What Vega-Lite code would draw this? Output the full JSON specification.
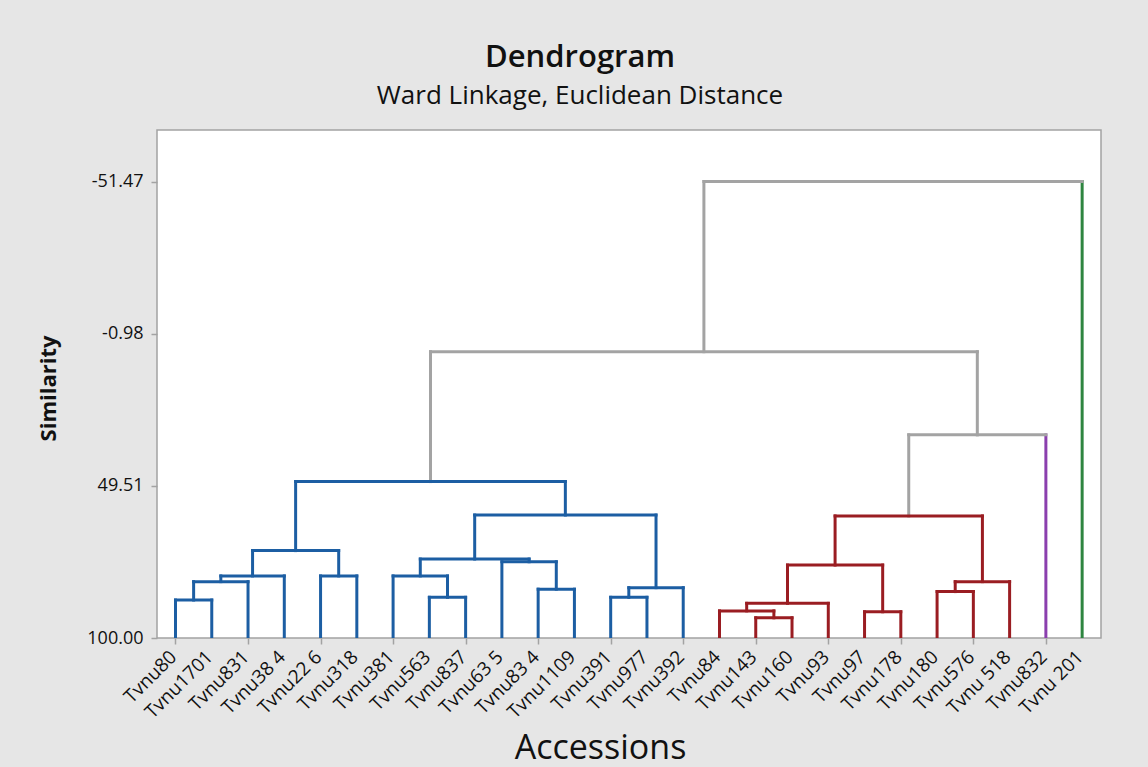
{
  "$schema": "https://vega.github.io/schema/vega-lite/v6.json",
  "autosize": {"type": "none"},
  "width": 944,
  "height": 508,
  "padding": {"left": 157, "top": 130, "right": 47, "bottom": 129},
  "background": "#e6e6e6",
  "title": {
    "text": "Dendrogram",
    "subtitle": "Ward Linkage, Euclidean Distance",
    "anchor": "middle",
    "dx": -49,
    "font": "Open Sans",
    "fontSize": 31,
    "fontWeight": 600,
    "color": "#111111",
    "subtitleFont": "Open Sans",
    "subtitleFontSize": 26,
    "subtitleColor": "#111111",
    "subtitlePadding": 9,
    "offset": 20
  },
  "config": {
    "view": {"fill": "#ffffff", "stroke": "#a3a3a3", "strokeWidth": 1.5}
  },
  "datasets": {
    "merges": [
      {"id": "A", "xl": 0, "yl": 100, "xr": 1, "yr": 100, "h": 87.4, "gl": "c1", "gr": "c1", "gh": "c1"},
      {"id": "B", "xl": 0.5, "yl": 87.4, "xr": 2, "yr": 100, "h": 81.3, "gl": "c1", "gr": "c1", "gh": "c1"},
      {"id": "C", "xl": 1.25, "yl": 81.3, "xr": 3, "yr": 100, "h": 79.4, "gl": "c1", "gr": "c1", "gh": "c1"},
      {"id": "D", "xl": 4, "yl": 100, "xr": 5, "yr": 100, "h": 79.4, "gl": "c1", "gr": "c1", "gh": "c1"},
      {"id": "E", "xl": 2.125, "yl": 79.4, "xr": 4.5, "yr": 79.4, "h": 71.0, "gl": "c1", "gr": "c1", "gh": "c1"},
      {"id": "F", "xl": 7, "yl": 100, "xr": 8, "yr": 100, "h": 86.5, "gl": "c1", "gr": "c1", "gh": "c1"},
      {"id": "G", "xl": 6, "yl": 100, "xr": 7.5, "yr": 86.5, "h": 79.4, "gl": "c1", "gr": "c1", "gh": "c1"},
      {"id": "H", "xl": 10, "yl": 100, "xr": 11, "yr": 100, "h": 83.8, "gl": "c1", "gr": "c1", "gh": "c1"},
      {"id": "I", "xl": 9, "yl": 100, "xr": 10.5, "yr": 83.8, "h": 74.7, "gl": "c1", "gr": "c1", "gh": "c1"},
      {"id": "J", "xl": 6.75, "yl": 79.4, "xr": 9.75, "yr": 74.7, "h": 73.8, "gl": "c1", "gr": "c1", "gh": "c1"},
      {"id": "K", "xl": 12, "yl": 100, "xr": 13, "yr": 100, "h": 86.5, "gl": "c1", "gr": "c1", "gh": "c1"},
      {"id": "L", "xl": 12.5, "yl": 86.5, "xr": 14, "yr": 100, "h": 83.3, "gl": "c1", "gr": "c1", "gh": "c1"},
      {"id": "M", "xl": 8.25, "yl": 73.8, "xr": 13.25, "yr": 83.3, "h": 59.2, "gl": "c1", "gr": "c1", "gh": "c1"},
      {"id": "N", "xl": 3.3125, "yl": 71.0, "xr": 10.75, "yr": 59.2, "h": 48.1, "gl": "c1", "gr": "c1", "gh": "c1"},
      {"id": "O", "xl": 16, "yl": 100, "xr": 17, "yr": 100, "h": 93.3, "gl": "c2", "gr": "c2", "gh": "c2"},
      {"id": "P", "xl": 15, "yl": 100, "xr": 16.5, "yr": 93.3, "h": 91.0, "gl": "c2", "gr": "c2", "gh": "c2"},
      {"id": "Q", "xl": 15.75, "yl": 91.0, "xr": 18, "yr": 100, "h": 88.5, "gl": "c2", "gr": "c2", "gh": "c2"},
      {"id": "R", "xl": 19, "yl": 100, "xr": 20, "yr": 100, "h": 91.3, "gl": "c2", "gr": "c2", "gh": "c2"},
      {"id": "S", "xl": 16.875, "yl": 88.5, "xr": 19.5, "yr": 91.3, "h": 75.8, "gl": "c2", "gr": "c2", "gh": "c2"},
      {"id": "T", "xl": 21, "yl": 100, "xr": 22, "yr": 100, "h": 84.6, "gl": "c2", "gr": "c2", "gh": "c2"},
      {"id": "U", "xl": 21.5, "yl": 84.6, "xr": 23, "yr": 100, "h": 81.3, "gl": "c2", "gr": "c2", "gh": "c2"},
      {"id": "V", "xl": 18.1875, "yl": 75.8, "xr": 22.25, "yr": 81.3, "h": 59.5, "gl": "c2", "gr": "c2", "gh": "c2"},
      {"id": "W", "xl": 20.21875, "yl": 59.5, "xr": 24, "yr": 100, "h": 32.6, "gl": "link", "gr": "c3", "gh": "link"},
      {"id": "X", "xl": 7.03125, "yl": 48.1, "xr": 22.109375, "yr": 32.6, "h": 5.0, "gl": "link", "gr": "link", "gh": "link"},
      {"id": "Y", "xl": 14.5703, "yl": 5.0, "xr": 25, "yr": 100, "h": -51.47, "gl": "link", "gr": "c4", "gh": "link"}
    ],
    "leaves": [
      {"pos": 0, "name": "Tvnu80"},
      {"pos": 1, "name": "Tvnu1701"},
      {"pos": 2, "name": "Tvnu831"},
      {"pos": 3, "name": "Tvnu38 4"},
      {"pos": 4, "name": "Tvnu22 6"},
      {"pos": 5, "name": "Tvnu318"},
      {"pos": 6, "name": "Tvnu381"},
      {"pos": 7, "name": "Tvnu563"},
      {"pos": 8, "name": "Tvnu837"},
      {"pos": 9, "name": "Tvnu63 5"},
      {"pos": 10, "name": "Tvnu83 4"},
      {"pos": 11, "name": "Tvnu1109"},
      {"pos": 12, "name": "Tvnu391"},
      {"pos": 13, "name": "Tvnu977"},
      {"pos": 14, "name": "Tvnu392"},
      {"pos": 15, "name": "Tvnu84"},
      {"pos": 16, "name": "Tvnu143"},
      {"pos": 17, "name": "Tvnu160"},
      {"pos": 18, "name": "Tvnu93"},
      {"pos": 19, "name": "Tvnu97"},
      {"pos": 20, "name": "Tvnu178"},
      {"pos": 21, "name": "Tvnu180"},
      {"pos": 22, "name": "Tvnu576"},
      {"pos": 23, "name": "Tvnu 518"},
      {"pos": 24, "name": "Tvnu832"},
      {"pos": 25, "name": "Tvnu 201"}
    ]
  },
  "layer": [
    {
      "data": {"name": "merges"},
      "mark": {"type": "rule", "strokeWidth": 3, "strokeCap": "square", "clip": true},
      "encoding": {
        "x": {"field": "xl", "type": "quantitative", "scale": {"domain": [-0.51, 25.52], "nice": false, "zero": false},
          "axis": {"values": [0,1,2,3,4,5,6,7,8,9,10,11,12,13,14,15,16,17,18,19,20,21,22,23,24,25], "labels": false, "grid": false, "domain": false, "ticks": true, "tickSize": 6, "tickColor": "#a3a3a3", "tickWidth": 1.5,
            "title": "Accessions", "titleFont": "Open Sans", "titleFontSize": 34, "titleFontWeight": "normal", "titleColor": "#111111", "titleX": 443, "titleY": 120, "titleBaseline": "alphabetic", "titleAlign": "center"}},
        "y": {"field": "yl", "type": "quantitative", "scale": {"domain": [-68.56, 100], "reverse": true, "nice": false, "zero": false},
          "axis": {"values": [-51.47, -0.98, 49.51, 100], "format": ".2f", "labelExpr": "replace(datum.label, '\u2212', '-')", "grid": false, "domain": false, "tickSize": 6, "tickColor": "#a3a3a3", "tickWidth": 1.5,
            "labelFont": "Open Sans", "labelFontSize": 18, "labelColor": "#111111", "labelPadding": 8,
            "title": "Similarity", "titleFont": "Open Sans", "titleFontSize": 22, "titleFontWeight": "bold", "titleColor": "#111111", "titleX": -97, "titleY": 258, "titleAngle": -90, "titleAlign": "center", "titleBaseline": "bottom"}},
        "y2": {"field": "h"},
        "color": {"field": "gl", "type": "nominal", "scale": {"domain": ["c1", "c2", "c3", "c4", "link"], "range": ["#1c5ea3", "#9a1d22", "#8b3fae", "#2e8540", "#a3a3a3"]}, "legend": null}
      }
    },
    {
      "data": {"name": "merges"},
      "mark": {"type": "rule", "strokeWidth": 3, "strokeCap": "square", "clip": true},
      "encoding": {
        "x": {"field": "xr", "type": "quantitative"},
        "y": {"field": "yr", "type": "quantitative"},
        "y2": {"field": "h"},
        "color": {"field": "gr", "type": "nominal", "legend": null}
      }
    },
    {
      "data": {"name": "merges"},
      "mark": {"type": "rule", "strokeWidth": 3, "strokeCap": "square", "clip": true},
      "encoding": {
        "x": {"field": "xl", "type": "quantitative"},
        "x2": {"field": "xr"},
        "y": {"field": "h", "type": "quantitative"},
        "color": {"field": "gh", "type": "nominal", "legend": null}
      }
    },
    {
      "data": {"name": "leaves"},
      "mark": {"type": "text", "angle": -45, "align": "right", "baseline": "middle", "font": "Open Sans", "fontSize": 19, "color": "#111111", "dx": -12.7, "dy": 9.9},
      "encoding": {
        "x": {"field": "pos", "type": "quantitative"},
        "y": {"datum": 100},
        "text": {"field": "name"}
      }
    }
  ]
}
